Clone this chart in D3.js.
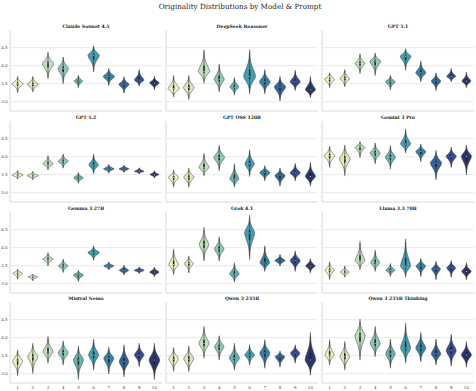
<!DOCTYPE html>
<html>
<head>
<meta charset="utf-8">
<script src="https://cdn.jsdelivr.net/npm/d3@7"></script>
<style>
  body { margin: 0; background: #fff; }
  text { font-family: "DejaVu Serif", serif; }
</style>
</head>
<body>
<div id="chart"></div>
<script>
const models = ["Claude Sonnet 4.5", "DeepSeek Reasoner", "GPT 5.1",
                "GPT 5.2", "GPT OSS 120B", "Gemini 3 Pro",
                "Gemma 3 27B", "Grok 4.1", "Llama 3.3 70B",
                "Mistral Nemo", "Qwen 3 235B", "Qwen 3 235B Thinking"];
const prompts = ["1", "2", "3", "4", "5", "6", "7", "8", "9", "10"];
const yTicks = [3.0, 3.5, 4.0, 4.5];

// centre (peak) of each violin, one row per model
const medians = [
  [3.50, 3.48, 4.05, 3.92, 3.57, 4.29, 3.70, 3.48, 3.60, 3.52],
  [3.36, 3.39, 3.84, 3.62, 3.41, 3.70, 3.55, 3.41, 3.55, 3.33],
  [3.62, 3.64, 4.06, 4.12, 3.55, 4.26, 3.80, 3.57, 3.70, 3.57],
  [3.49, 3.47, 3.80, 3.87, 3.41, 3.77, 3.66, 3.66, 3.59, 3.50],
  [3.43, 3.43, 3.70, 3.98, 3.38, 3.80, 3.56, 3.47, 3.55, 3.45],
  [4.03, 3.94, 4.26, 4.10, 3.98, 4.35, 4.14, 3.82, 4.01, 4.01],
  [3.29, 3.19, 3.68, 3.49, 3.24, 3.86, 3.49, 3.37, 3.37, 3.32],
  [3.53, 3.56, 4.09, 3.96, 3.27, 4.41, 3.58, 3.64, 3.64, 3.49],
  [3.37, 3.32, 3.64, 3.58, 3.37, 3.49, 3.49, 3.41, 3.44, 3.34],
  [3.35, 3.47, 3.61, 3.58, 3.38, 3.52, 3.43, 3.33, 3.52, 3.38],
  [3.41, 3.41, 3.84, 3.75, 3.43, 3.52, 3.57, 3.47, 3.57, 3.38],
  [3.52, 3.47, 4.05, 3.84, 3.55, 3.71, 3.71, 3.55, 3.64, 3.52]
];
// lower tip of each violin
const lows = [
  [3.25, 3.27, 3.64, 3.50, 3.39, 3.82, 3.45, 3.24, 3.43, 3.33],
  [3.13, 3.06, 3.52, 3.27, 3.18, 3.22, 3.22, 3.02, 3.31, 3.11],
  [3.39, 3.41, 3.78, 3.73, 3.33, 3.87, 3.55, 3.31, 3.55, 3.39],
  [3.38, 3.36, 3.63, 3.68, 3.26, 3.52, 3.54, 3.56, 3.52, 3.41],
  [3.15, 3.15, 3.47, 3.61, 3.15, 3.45, 3.33, 3.18, 3.33, 3.18],
  [3.70, 3.47, 3.98, 3.80, 3.66, 4.10, 3.86, 3.36, 3.70, 3.49],
  [3.12, 3.08, 3.49, 3.31, 3.06, 3.65, 3.38, 3.24, 3.28, 3.19],
  [3.25, 3.30, 3.63, 3.63, 3.04, 3.67, 3.34, 3.49, 3.34, 3.30],
  [3.11, 3.18, 3.39, 3.34, 3.20, 3.18, 3.20, 3.11, 3.18, 3.11],
  [2.94, 3.01, 3.29, 3.24, 2.84, 3.10, 2.99, 2.92, 3.19, 2.84],
  [3.06, 3.06, 3.43, 3.38, 3.10, 3.24, 3.15, 3.18, 3.29, 2.96],
  [3.24, 3.10, 3.38, 3.47, 3.15, 3.29, 3.33, 3.24, 3.21, 3.18]
];
// upper tip of each violin
const highs = [
  [3.70, 3.70, 4.38, 4.24, 3.73, 4.55, 3.92, 3.69, 3.89, 3.70],
  [3.73, 3.73, 4.44, 4.04, 3.67, 4.44, 3.89, 3.70, 3.87, 3.70],
  [3.80, 3.89, 4.33, 4.35, 3.73, 4.47, 4.13, 3.80, 3.92, 3.82],
  [3.61, 3.59, 4.03, 4.07, 3.56, 4.07, 3.78, 3.76, 3.69, 3.61],
  [3.63, 3.68, 4.09, 4.32, 3.80, 4.19, 3.75, 3.68, 3.81, 3.84],
  [4.29, 4.32, 4.42, 4.38, 4.31, 4.77, 4.35, 4.17, 4.26, 4.32],
  [3.40, 3.26, 3.86, 3.68, 3.37, 4.05, 3.60, 3.51, 3.46, 3.46],
  [3.96, 3.77, 4.56, 4.30, 3.58, 4.89, 4.05, 3.81, 3.91, 3.70],
  [3.61, 3.49, 4.17, 3.93, 3.56, 4.24, 3.70, 3.62, 3.64, 3.58],
  [3.66, 3.84, 4.03, 3.91, 3.77, 3.96, 3.73, 3.80, 3.84, 3.84],
  [3.73, 3.77, 4.31, 4.05, 3.84, 3.80, 3.94, 3.63, 3.80, 4.14],
  [3.94, 3.89, 4.51, 4.31, 3.96, 4.40, 4.14, 3.96, 4.09, 3.89]
];
// widest point, as a share of half the category band
const widths = [
  [0.72, 0.72, 0.72, 0.68, 0.55, 0.75, 0.74, 0.66, 0.62, 0.62],
  [0.72, 0.70, 0.74, 0.66, 0.58, 0.78, 0.70, 0.74, 0.66, 0.66],
  [0.66, 0.62, 0.62, 0.70, 0.62, 0.70, 0.66, 0.62, 0.58, 0.58],
  [0.74, 0.74, 0.66, 0.66, 0.62, 0.62, 0.70, 0.66, 0.62, 0.58],
  [0.66, 0.66, 0.66, 0.70, 0.58, 0.62, 0.66, 0.66, 0.66, 0.66],
  [0.66, 0.70, 0.62, 0.66, 0.66, 0.66, 0.66, 0.74, 0.66, 0.66],
  [0.62, 0.62, 0.66, 0.62, 0.66, 0.74, 0.66, 0.62, 0.66, 0.62],
  [0.62, 0.58, 0.62, 0.62, 0.62, 0.66, 0.62, 0.66, 0.66, 0.62],
  [0.58, 0.58, 0.62, 0.58, 0.58, 0.66, 0.62, 0.58, 0.58, 0.62],
  [0.66, 0.66, 0.66, 0.66, 0.66, 0.66, 0.66, 0.62, 0.62, 0.70],
  [0.62, 0.66, 0.66, 0.62, 0.66, 0.62, 0.66, 0.62, 0.62, 0.70],
  [0.58, 0.62, 0.66, 0.66, 0.62, 0.66, 0.66, 0.62, 0.66, 0.66]
];

const width = 476, height = 391;
const colLeft = [10, 166, 322];
const rowTop = [30, 121, 212, 302];
const panelW = 152, panelH = 81;

const svg = d3.select("#chart").append("svg")
    .attr("width", width)
    .attr("height", height);

svg.append("text")
    .attr("x", 240)
    .attr("y", 9)
    .attr("text-anchor", "middle")
    .attr("font-size", 7.2)
    .attr("fill", "#222")
    .text("Originality Distributions by Model & Prompt");

const x = d3.scaleBand().domain(prompts).range([0, panelW]);
const y = d3.scaleLinear().domain([2.74, 4.99]).range([panelH, 0]);

// YlGnBu, sampled like seaborn and desaturated to 0.75
const ylgnbu = ["#ffffd9", "#edf8b1", "#c7e9b4", "#7fcdbb", "#41b6c4",
                "#1d91c0", "#225ea8", "#253494", "#081d58"];
const cmap = d3.scaleLinear()
    .domain(d3.range(9).map(i => i / 8))
    .range(ylgnbu)
    .interpolate(d3.interpolateRgb);
const colors = prompts.map((p, i) => {
    const c = d3.hsl(cmap((i + 1) / 11));
    c.s *= 0.75;
    return c.formatHex();
});

// shape of one violin from its centre / tips
function profile(med, lo, hi) {
    const n = 60, pts = [];
    for (let k = 0; k <= n; k++) {
        const v = lo + (hi - lo) * k / n;
        const s = v > med ? (hi - med) / 2.4 : (med - lo) / 2.4;
        const t = Math.abs(v - med) / s;
        pts.push({ v: v, d: Math.exp(-Math.pow(t, 1.7)) });
    }
    return pts;
}
function quantile(pts, q) {
    const cum = [0];
    for (let k = 1; k < pts.length; k++)
        cum.push(cum[k - 1] + (pts[k].d + pts[k - 1].d) / 2);
    const total = cum[cum.length - 1];
    for (let k = 1; k < pts.length; k++) {
        if (cum[k] / total >= q) {
            const f = (q * total - cum[k - 1]) / (cum[k] - cum[k - 1]);
            return pts[k - 1].v + f * (pts[k].v - pts[k - 1].v);
        }
    }
    return pts[pts.length - 1].v;
}

models.forEach((m, mi) => {
    const col = mi % 3, row = Math.floor(mi / 3);
    const g = svg.append("g")
        .attr("transform", "translate(" + colLeft[col] + "," + rowTop[row] + ")");

    // grid
    g.append("g")
        .selectAll("line")
        .data(yTicks)
        .join("line")
        .attr("x1", 0).attr("x2", panelW)
        .attr("y1", d => y(d)).attr("y2", d => y(d))
        .attr("stroke", "#e4e4e4")
        .attr("stroke-width", 0.8);

    // spines
    g.append("line").attr("x1", 0).attr("x2", 0).attr("y1", 0).attr("y2", panelH)
        .attr("stroke", "#d6d6d6").attr("stroke-width", 0.9);
    g.append("line").attr("x1", 0).attr("x2", panelW).attr("y1", panelH).attr("y2", panelH)
        .attr("stroke", "#d6d6d6").attr("stroke-width", 0.9);

    g.append("text")
        .attr("x", panelW / 2)
        .attr("y", -2.5)
        .attr("text-anchor", "middle")
        .attr("font-size", 4.6)
        .attr("font-weight", "bold")
        .attr("fill", "#222")
        .text(m);

    if (col == 0) {
        const ay = g.append("g")
            .call(d3.axisLeft(y).tickValues(yTicks).tickFormat(d3.format(".1f"))
                .tickSize(0).tickPadding(2.5));
        ay.select(".domain").remove();
        ay.selectAll("text").attr("font-size", 4).attr("fill", "#444")
            .attr("font-family", "DejaVu Serif");
    }
    if (row == 3) {
        const ax = g.append("g")
            .attr("transform", "translate(0," + panelH + ")")
            .call(d3.axisBottom(x).tickSize(0).tickPadding(3));
        ax.select(".domain").remove();
        ax.selectAll("text").attr("font-size", 4).attr("fill", "#444")
            .attr("font-family", "DejaVu Serif");
    }

    prompts.forEach((p, i) => {
        const pts = profile(medians[mi][i], lows[mi][i], highs[mi][i]);
        const half = widths[mi][i] * x.bandwidth() / 2;
        const cx = x(p) + x.bandwidth() / 2;
        const area = d3.area()
            .y(d => y(d.v))
            .x0(d => cx - d.d * half)
            .x1(d => cx + d.d * half)
            .curve(d3.curveBasis);
        g.append("path")
            .attr("d", area(pts))
            .attr("fill", colors[i])
            .attr("stroke", "#3c3c3c")
            .attr("stroke-width", 0.55);

        const w0 = quantile(pts, 0.004), w1 = quantile(pts, 0.996);
        const q1 = quantile(pts, 0.25), q3 = quantile(pts, 0.75);
        g.append("line")
            .attr("x1", cx).attr("x2", cx)
            .attr("y1", y(w0)).attr("y2", y(w1))
            .attr("stroke", "#333").attr("stroke-width", 0.6);
        g.append("line")
            .attr("x1", cx).attr("x2", cx)
            .attr("y1", y(q1)).attr("y2", y(q3))
            .attr("stroke", "#222").attr("stroke-width", 1.5);
        g.append("circle")
            .attr("cx", cx).attr("cy", y(medians[mi][i]))
            .attr("r", 0.5)
            .attr("fill", "#fff");
    });
});
</script>
</body>
</html>
